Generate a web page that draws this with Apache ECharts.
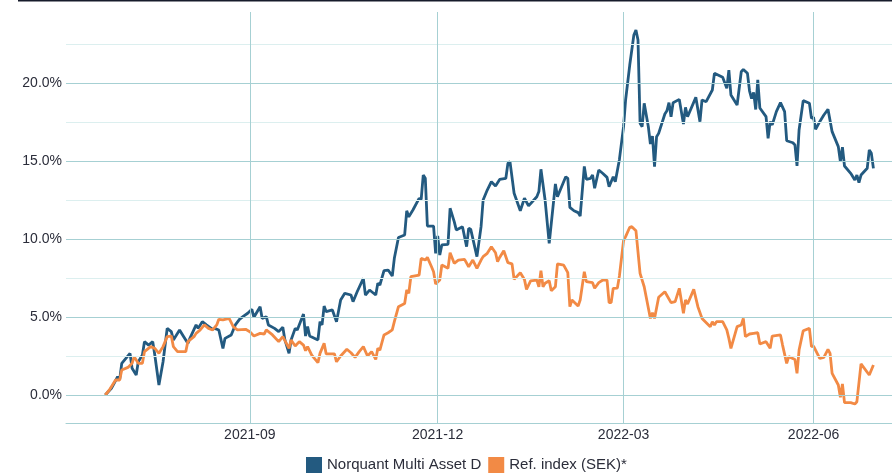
<!DOCTYPE html>
<html>
<head>
<meta charset="utf-8">
<script src="https://cdn.jsdelivr.net/npm/echarts@6/dist/echarts.min.js"></script>
<style>
  html, body { margin: 0; padding: 0; background: #fff; }
  #container { width: 892px; height: 475px; }
</style>
</head>
<body>
<div id="container"></div>
<script>
// cumulative return (%)
const fundName = 'Norquant Multi Asset D';
const refName = 'Ref. index (SEK)*';

const fundData = [
  ['2021-06-23', 0.00], ['2021-06-26', 0.43], ['2021-06-29', 1.17], ['2021-06-30', 1.00],
  ['2021-07-01', 2.03], ['2021-07-05', 2.67], ['2021-07-06', 1.71], ['2021-07-08', 1.28],
  ['2021-07-09', 2.13], ['2021-07-11', 2.56], ['2021-07-12', 3.42], ['2021-07-14', 3.20],
  ['2021-07-16', 3.42], ['2021-07-17', 2.56], ['2021-07-19', 0.64], ['2021-07-21', 2.13],
  ['2021-07-23', 4.27], ['2021-07-25', 4.06], ['2021-07-26', 3.53], ['2021-07-29', 4.17],
  ['2021-07-31', 3.74], ['2021-08-02', 3.31], ['2021-08-03', 3.63], ['2021-08-06', 4.49],
  ['2021-08-07', 4.27], ['2021-08-09', 4.70], ['2021-08-11', 4.49], ['2021-08-14', 4.21],
  ['2021-08-15', 4.27], ['2021-08-17', 4.17], ['2021-08-19', 2.99], ['2021-08-20', 3.63],
  ['2021-08-23', 3.85], ['2021-08-25', 4.49], ['2021-08-27', 4.85], ['2021-08-29', 5.06],
  ['2021-08-31', 5.24], ['2021-09-02', 5.49], ['2021-09-03', 4.98], ['2021-09-06', 5.66],
  ['2021-09-07', 4.91], ['2021-09-09', 5.02], ['2021-09-10', 4.49], ['2021-09-13', 4.27],
  ['2021-09-15', 4.06], ['2021-09-17', 4.34], ['2021-09-18', 3.53], ['2021-09-20', 2.67],
  ['2021-09-21', 3.53], ['2021-09-23', 4.27], ['2021-09-24', 4.17], ['2021-09-27', 5.19],
  ['2021-09-28', 3.78], ['2021-09-29', 4.38], ['2021-09-30', 3.78], ['2021-10-04', 3.53],
  ['2021-10-05', 4.70], ['2021-10-06', 4.49], ['2021-10-07', 5.70], ['2021-10-08', 5.34],
  ['2021-10-11', 5.45], ['2021-10-13', 4.70], ['2021-10-15', 6.09], ['2021-10-17', 6.52],
  ['2021-10-20', 6.41], ['2021-10-21', 5.98], ['2021-10-23', 6.62], ['2021-10-26', 7.48],
  ['2021-10-27', 6.40], ['2021-10-29', 6.73], ['2021-11-01', 6.41], ['2021-11-02', 7.16],
  ['2021-11-03', 7.05], ['2021-11-05', 7.97], ['2021-11-07', 8.01], ['2021-11-09', 7.63],
  ['2021-11-10', 8.76], ['2021-11-12', 10.10], ['2021-11-15', 10.26], ['2021-11-16', 11.81],
  ['2021-11-17', 11.43], ['2021-11-19', 11.86], ['2021-11-22', 12.60], ['2021-11-23', 12.54],
  ['2021-11-24', 14.10], ['2021-11-25', 13.89], ['2021-11-26', 10.83], ['2021-11-29', 10.83],
  ['2021-11-30', 9.08], ['2021-12-01', 10.19], ['2021-12-02', 8.97], ['2021-12-03', 9.62],
  ['2021-12-06', 9.66], ['2021-12-07', 11.97], ['2021-12-09', 11.11], ['2021-12-10', 10.58],
  ['2021-12-13', 10.79], ['2021-12-15', 9.51], ['2021-12-16', 10.68], ['2021-12-17', 10.62],
  ['2021-12-20', 8.87], ['2021-12-22', 10.79], ['2021-12-23', 12.50], ['2021-12-25', 13.14],
  ['2021-12-27', 13.67], ['2021-12-29', 13.40], ['2021-12-31', 13.82], ['2022-01-03', 13.89],
  ['2022-01-04', 14.85], ['2022-01-05', 14.96], ['2022-01-07', 12.93], ['2022-01-10', 11.81],
  ['2022-01-12', 12.61], ['2022-01-14', 12.12], ['2022-01-18', 12.71], ['2022-01-19', 13.04],
  ['2022-01-20', 14.47], ['2022-01-22', 12.50], ['2022-01-24', 9.72], ['2022-01-27', 13.53],
  ['2022-01-28', 12.71], ['2022-01-30', 13.35], ['2022-02-01', 13.99], ['2022-02-02', 13.89],
  ['2022-02-03', 12.03], ['2022-02-05', 11.81], ['2022-02-07', 11.69], ['2022-02-08', 11.47],
  ['2022-02-10', 14.65], ['2022-02-11', 13.82], ['2022-02-13', 13.89], ['2022-02-14', 14.10],
  ['2022-02-15', 13.25], ['2022-02-17', 14.42], ['2022-02-19', 14.20], ['2022-02-21', 13.95],
  ['2022-02-22', 13.35], ['2022-02-24', 13.99], ['2022-02-25', 13.67], ['2022-02-27', 15.10],
  ['2022-03-01', 17.20], ['2022-03-02', 18.91], ['2022-03-04', 21.15], ['2022-03-06', 23.08],
  ['2022-03-07', 23.40], ['2022-03-08', 22.76], ['2022-03-09', 17.42], ['2022-03-10', 17.20],
  ['2022-03-11', 18.70], ['2022-03-13', 17.20], ['2022-03-14', 16.09], ['2022-03-15', 16.60],
  ['2022-03-16', 14.63], ['2022-03-17', 16.56], ['2022-03-18', 16.77], ['2022-03-21', 18.01],
  ['2022-03-22', 18.22], ['2022-03-23', 18.74], ['2022-03-24', 17.84], ['2022-03-25', 18.74],
  ['2022-03-28', 18.95], ['2022-03-30', 17.37], ['2022-03-31', 18.44], ['2022-04-01', 17.84],
  ['2022-04-05', 19.08], ['2022-04-07', 17.52], ['2022-04-08', 18.91], ['2022-04-10', 18.80],
  ['2022-04-13', 19.55], ['2022-04-14', 20.62], ['2022-04-18', 20.36], ['2022-04-20', 19.66],
  ['2022-04-21', 20.83], ['2022-04-22', 19.23], ['2022-04-25', 18.59], ['2022-04-27', 20.72],
  ['2022-04-28', 20.87], ['2022-04-30', 20.62], ['2022-05-01', 19.50], ['2022-05-02', 19.00],
  ['2022-05-03', 19.40], ['2022-05-04', 18.30], ['2022-05-05', 20.20], ['2022-05-06', 18.40],
  ['2022-05-09', 17.84], ['2022-05-10', 16.45], ['2022-05-11', 17.52], ['2022-05-12', 17.31],
  ['2022-05-14', 18.16], ['2022-05-16', 18.74], ['2022-05-18', 18.16], ['2022-05-19', 16.30],
  ['2022-05-22', 16.17], ['2022-05-23', 16.03], ['2022-05-24', 14.68], ['2022-05-25', 16.99],
  ['2022-05-27', 18.87], ['2022-05-30', 18.70], ['2022-05-31', 17.74], ['2022-06-01', 17.80],
  ['2022-06-02', 17.03], ['2022-06-04', 17.52], ['2022-06-06', 17.95], ['2022-06-08', 18.31],
  ['2022-06-10', 16.88], ['2022-06-13', 15.92], ['2022-06-14', 14.96], ['2022-06-15', 15.88],
  ['2022-06-16', 14.68], ['2022-06-19', 14.21], ['2022-06-21', 13.78], ['2022-06-22', 14.10],
  ['2022-06-23', 13.61], ['2022-06-24', 14.10], ['2022-06-27', 14.53], ['2022-06-28', 15.71],
  ['2022-06-29', 15.49], ['2022-06-30', 14.53]
];

const refData = [
  ['2021-06-23', 0.00], ['2021-06-25', 0.32], ['2021-06-28', 0.96], ['2021-06-30', 0.96],
  ['2021-07-01', 1.60], ['2021-07-04', 1.77], ['2021-07-06', 2.03], ['2021-07-07', 2.46],
  ['2021-07-09', 2.03], ['2021-07-11', 2.03], ['2021-07-12', 2.78], ['2021-07-15', 3.10],
  ['2021-07-17', 2.99], ['2021-07-19', 2.67], ['2021-07-21', 3.10], ['2021-07-23', 3.74],
  ['2021-07-25', 3.78], ['2021-07-26', 3.10], ['2021-07-28', 2.78], ['2021-08-01', 2.78],
  ['2021-08-02', 3.42], ['2021-08-05', 3.74], ['2021-08-06', 3.95], ['2021-08-08', 4.17],
  ['2021-08-10', 4.49], ['2021-08-12', 4.27], ['2021-08-14', 4.17], ['2021-08-16', 4.49],
  ['2021-08-17', 4.85], ['2021-08-19', 4.81], ['2021-08-22', 4.91], ['2021-08-24', 4.38],
  ['2021-08-26', 4.17], ['2021-08-30', 4.21], ['2021-09-01', 4.06], ['2021-09-03', 3.78],
  ['2021-09-06', 3.95], ['2021-09-08', 3.91], ['2021-09-09', 4.17], ['2021-09-12', 3.85],
  ['2021-09-15', 3.42], ['2021-09-17', 3.74], ['2021-09-20', 2.99], ['2021-09-21', 3.53],
  ['2021-09-23', 3.14], ['2021-09-25', 3.42], ['2021-09-27', 3.20], ['2021-09-28', 2.84],
  ['2021-09-29', 3.10], ['2021-10-01', 2.56], ['2021-10-04', 2.07], ['2021-10-05', 2.67],
  ['2021-10-07', 3.31], ['2021-10-08', 2.63], ['2021-10-12', 2.63], ['2021-10-13', 2.13],
  ['2021-10-15', 2.50], ['2021-10-18', 2.93], ['2021-10-20', 2.71], ['2021-10-22', 2.41],
  ['2021-10-24', 2.78], ['2021-10-26', 3.10], ['2021-10-28', 2.50], ['2021-10-30', 2.78],
  ['2021-11-01', 2.28], ['2021-11-02', 2.99], ['2021-11-03', 2.88], ['2021-11-05', 3.85],
  ['2021-11-07', 3.99], ['2021-11-09', 4.17], ['2021-11-10', 4.70], ['2021-11-12', 5.66],
  ['2021-11-15', 5.87], ['2021-11-16', 6.73], ['2021-11-17', 6.52], ['2021-11-18', 7.58],
  ['2021-11-22', 7.69], ['2021-11-23', 8.76], ['2021-11-25', 8.65], ['2021-11-26', 8.82],
  ['2021-11-28', 8.22], ['2021-11-29', 7.90], ['2021-11-30', 7.12], ['2021-12-02', 7.37],
  ['2021-12-03', 8.33], ['2021-12-06', 8.12], ['2021-12-07', 9.12], ['2021-12-09', 8.44],
  ['2021-12-11', 8.65], ['2021-12-14', 8.69], ['2021-12-16', 8.22], ['2021-12-18', 8.65],
  ['2021-12-20', 8.12], ['2021-12-22', 8.65], ['2021-12-23', 8.87], ['2021-12-25', 9.08],
  ['2021-12-27', 9.50], ['2021-12-29', 9.12], ['2021-12-30', 8.54], ['2021-12-31', 8.82],
  ['2022-01-02', 9.25], ['2022-01-04', 8.48], ['2022-01-06', 8.40], ['2022-01-07', 7.41],
  ['2022-01-10', 7.84], ['2022-01-12', 7.41], ['2022-01-13', 6.77], ['2022-01-15', 7.32],
  ['2022-01-18', 7.37], ['2022-01-19', 6.94], ['2022-01-20', 7.97], ['2022-01-21', 6.94],
  ['2022-01-22', 7.16], ['2022-01-24', 7.32], ['2022-01-25', 6.68], ['2022-01-27', 6.94],
  ['2022-01-28', 8.40], ['2022-01-31', 8.33], ['2022-02-02', 7.84], ['2022-02-03', 5.66],
  ['2022-02-04', 6.09], ['2022-02-07', 5.70], ['2022-02-08', 6.09], ['2022-02-10', 7.90],
  ['2022-02-11', 7.26], ['2022-02-14', 7.20], ['2022-02-15', 6.84], ['2022-02-17', 7.20],
  ['2022-02-19', 7.37], ['2022-02-21', 7.37], ['2022-02-22', 5.92], ['2022-02-23', 5.92],
  ['2022-02-24', 6.84], ['2022-02-26', 6.85], ['2022-02-27', 7.63], ['2022-03-01', 9.90],
  ['2022-03-02', 10.15], ['2022-03-04', 10.75], ['2022-03-05', 10.79], ['2022-03-07', 10.53],
  ['2022-03-09', 7.80], ['2022-03-11', 6.94], ['2022-03-14', 4.91], ['2022-03-15', 5.28],
  ['2022-03-16', 4.91], ['2022-03-18', 6.26], ['2022-03-21', 6.62], ['2022-03-24', 5.92],
  ['2022-03-26', 5.98], ['2022-03-28', 6.84], ['2022-03-30', 5.24], ['2022-03-31', 6.09],
  ['2022-04-01', 5.83], ['2022-04-04', 6.77], ['2022-04-06', 5.66], ['2022-04-08', 4.91],
  ['2022-04-12', 4.38], ['2022-04-13', 4.70], ['2022-04-14', 4.49], ['2022-04-15', 4.70],
  ['2022-04-18', 4.70], ['2022-04-20', 4.17], ['2022-04-21', 3.63], ['2022-04-22', 2.99],
  ['2022-04-25', 4.38], ['2022-04-27', 4.49], ['2022-04-28', 4.91], ['2022-04-29', 3.74],
  ['2022-05-01', 3.91], ['2022-05-03', 3.95], ['2022-05-05', 3.99], ['2022-05-06', 3.27],
  ['2022-05-09', 3.42], ['2022-05-11', 2.99], ['2022-05-12', 3.78], ['2022-05-16', 3.85],
  ['2022-05-17', 3.20], ['2022-05-19', 2.03], ['2022-05-20', 2.46], ['2022-05-23', 2.28],
  ['2022-05-24', 1.39], ['2022-05-25', 2.88], ['2022-05-27', 4.12], ['2022-05-30', 4.27],
  ['2022-05-31', 3.10], ['2022-06-01', 3.14], ['2022-06-04', 2.35], ['2022-06-06', 2.41],
  ['2022-06-08', 2.93], ['2022-06-09', 2.67], ['2022-06-10', 1.39], ['2022-06-13', 0.64],
  ['2022-06-14', -0.15], ['2022-06-15', 0.71], ['2022-06-16', -0.49], ['2022-06-19', -0.49],
  ['2022-06-21', -0.58], ['2022-06-22', -0.43], ['2022-06-24', 1.99], ['2022-06-28', 1.28],
  ['2022-06-30', 1.92]
];

const xTicks = ['2021-09-01', '2021-12-01', '2022-03-01', '2022-06-01'];
const yMajorTicks = [0, 5, 10, 15, 20];
const yMinorTicks = [2.5, 7.5, 12.5, 17.5, 22.5];

const fontFamily = '"Liberation Sans", Arial, sans-serif';
const textColor = '#2b2d3a';
const gridColor = '#a6d0d3';
const minorGridColor = '#dcefef';
const fundColor = '#235a80';
const refColor = '#f28a45';

// grid lines drawn as mark lines so each set keeps its own colour
const gridLines = [].concat(
  yMinorTicks.map((v) => ({ yAxis: v, lineStyle: { color: minorGridColor, width: 1, type: 'solid' } })),
  yMajorTicks.map((v) => ({ yAxis: v, lineStyle: { color: gridColor, width: 1, type: 'solid' } })),
  xTicks.map((v) => ({ xAxis: v, lineStyle: { color: gridColor, width: 1, type: 'solid' } }))
);

const dom = document.getElementById('container');
const myChart = echarts.init(dom);
const option = {
  animation: false,
  textStyle: { fontFamily: fontFamily },
  grid: { left: 66, right: 0, top: 12, bottom: 52 },
  legend: {
    left: 301,
    top: 452,
    itemWidth: 16,
    itemHeight: 16,
    itemGap: 7,
    icon: 'rect',
    textStyle: { fontSize: 15, color: textColor, fontFamily: fontFamily },
    data: [fundName, refName],
  },
  graphic: [
    { type: 'rect', left: 18, top: 0, shape: { width: 874, height: 1.5 }, style: { fill: '#161b2b' } },
  ],
  xAxis: {
    type: 'time',
    min: '2021-06-04',
    max: '2022-07-09',
    axisLine: { show: true, onZero: false, lineStyle: { color: gridColor, width: 1 } },
    axisTick: { show: false, customValues: xTicks },
    axisLabel: {
      customValues: xTicks,
      formatter: '{yyyy}-{MM}',
      fontSize: 14,
      color: textColor,
      margin: 5,
    },
    splitLine: { show: false },
  },
  yAxis: {
    type: 'value',
    min: -1.795,
    max: 24.55,
    axisLine: { show: false },
    axisTick: { show: false, customValues: yMajorTicks },
    axisLabel: {
      customValues: yMajorTicks,
      formatter: (v) => v.toFixed(1) + '%',
      fontSize: 14,
      color: textColor,
      margin: 4,
    },
    splitLine: { show: false },
  },
  series: [
    {
      name: 'grid',
      type: 'line',
      z: 1,
      data: [],
      markLine: {
        silent: true,
        animation: false,
        symbol: 'none',
        label: { show: false },
        emphasis: { disabled: true },
        data: gridLines,
      },
    },
    {
      name: fundName,
      type: 'line',
      z: 3,
      showSymbol: false,
      itemStyle: { color: fundColor },
      lineStyle: { width: 2.8, color: fundColor },
      data: fundData,
    },
    {
      name: refName,
      type: 'line',
      z: 3,
      showSymbol: false,
      itemStyle: { color: refColor },
      lineStyle: { width: 2.8, color: refColor },
      data: refData,
    },
  ],
};

if (option && typeof option === 'object') {
  myChart.setOption(option, true);
}
</script>
</body>
</html>
